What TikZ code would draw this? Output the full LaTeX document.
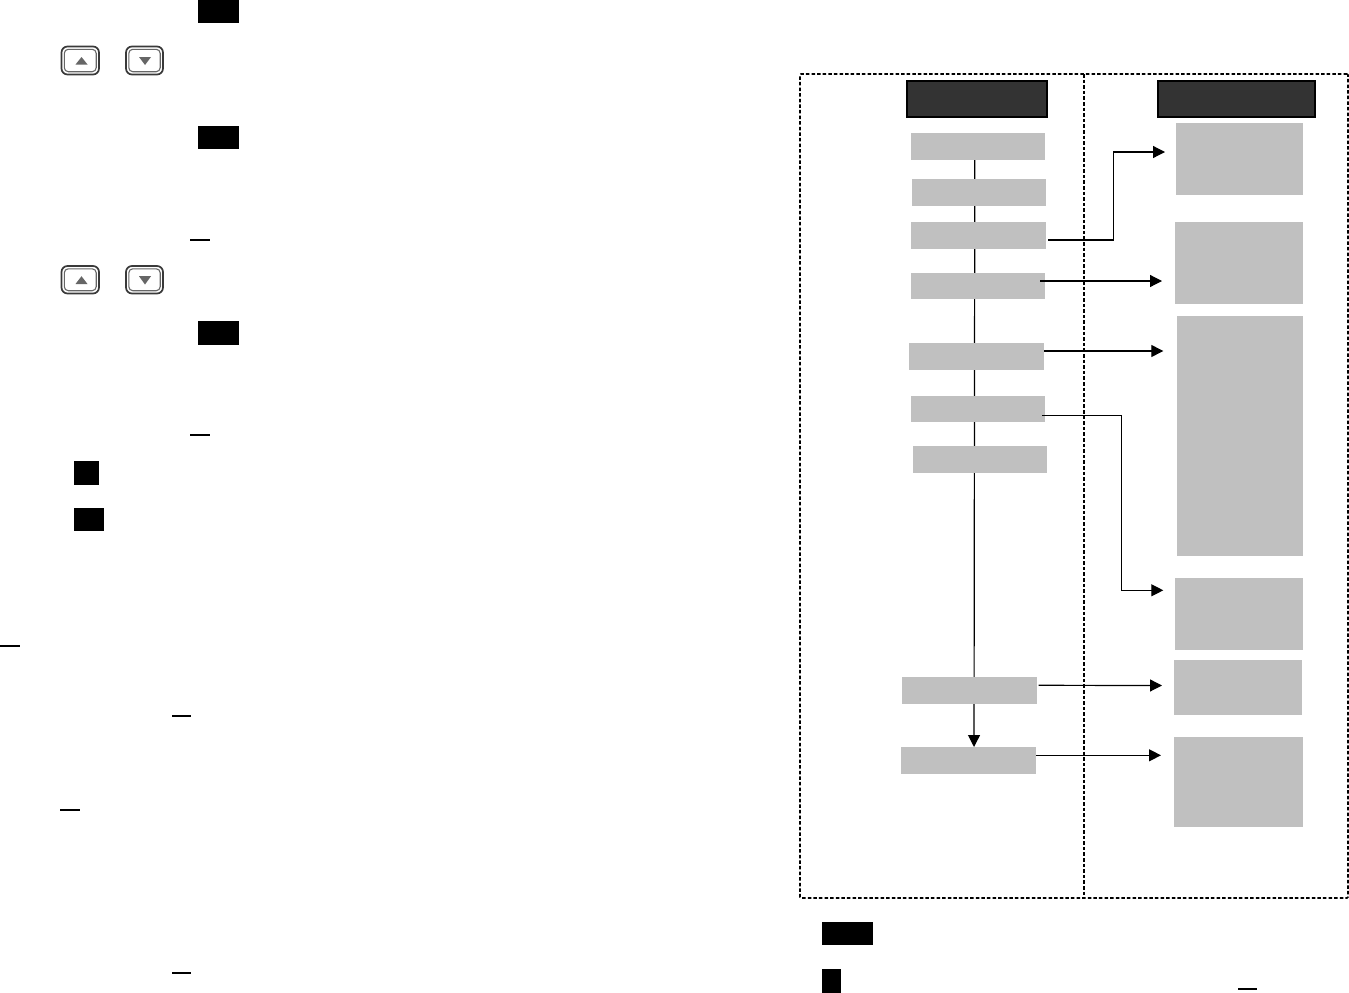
\documentclass[tikz,border=0pt]{standalone}
\usetikzlibrary{arrows.meta,backgrounds}
\definecolor{boxgrey}{HTML}{C0C0C0}
\definecolor{headgrey}{HTML}{333333}
\definecolor{keydark}{HTML}{3A3A3A}
\definecolor{keymid}{HTML}{666666}
\definecolor{keytri}{HTML}{666666}
\tikzset{
  x=1pt,y=-1pt,
  plainbox/.style={inner sep=0pt,outer sep=0pt},
  greybox/.style={plainbox,fill=boxgrey},
  headbox/.style={plainbox,fill=headgrey,draw=black,line width=2pt},
  keycap/.style={plainbox,fill=black},
  framebox/.style={plainbox,draw=black,line width=1.6pt,dash pattern=on 3.5pt off 2.1pt,rounded corners=1pt},
  frameline/.style={draw=black,line width=1.6pt,dash pattern=on 3.5pt off 2.1pt},
  flow/.style={draw=black,line width=1.2pt,-{Triangle[length=12pt,width=12pt]}},
  spineline/.style={draw=black,line width=1.2pt},
  uline/.style={draw=black,line width=#1},
  uline/.default=1.2pt,
  keyouter/.style={draw=keydark,line width=1.7pt,fill=white,rounded corners=6pt},
  keyinner/.style={draw=keymid,line width=1.1pt,rounded corners=4pt},
  keytriangle/.style={fill=keytri,draw=none}
}
% \mybox{name}{x1}{y1}{x2}{y2}{style}
\newcommand{\mybox}[6]{%
  \pgfmathsetmacro{\myw}{#4-#2}\pgfmathsetmacro{\myh}{#5-#3}%
  \pgfmathsetmacro{\mycx}{(#2+#4)/2}\pgfmathsetmacro{\mycy}{(#3+#5)/2}%
  \node[#6,minimum width=\myw pt,minimum height=\myh pt] (#1) at (\mycx,\mycy) {};%
}
% \keybtn{x1}{y1}{x2}{y2}{tx1}{tx2}{ty-base}{ty-apex}
\newcommand{\keybtn}[8]{%
  \draw[keyouter] (#1,#2) rectangle (#3,#4);
  \draw[keyinner] (#1+2.8,#2+2.8) rectangle (#3-2.8,#4-2.8);
  \fill[keytriangle] (#5,#7) -- (#6,#7) -- ({(#5+#6)/2},#8) -- cycle;
}
\begin{document}
\begin{tikzpicture}
\useasboundingbox (0,0) rectangle (1349,993);

% left column keys
\mybox{k1}{198}{0}{239}{23}{keycap}
\mybox{k2}{198}{126}{239}{149}{keycap}
\mybox{k3}{198}{321}{239}{345}{keycap}
\mybox{k4}{74}{461}{99}{485}{keycap}
\mybox{k5}{74}{508}{104}{531}{keycap}
\mybox{k6}{822}{922}{873}{945}{keycap}
\mybox{k7}{822}{969}{841}{993}{keycap}

\keybtn{61.5}{46.5}{99}{74.5}{75.5}{87.5}{64.5}{57}
\keybtn{126}{46.5}{163}{74.5}{139}{151}{57}{65}
\keybtn{61.5}{266}{99}{293.5}{75.5}{87.5}{284}{276.2}
\keybtn{126}{266}{163}{293.5}{139}{151}{276.2}{284.5}

\draw[uline] (190,240) -- (210,240);
\draw[uline] (190,435) -- (210,435);
\draw[uline] (0,646) -- (20,646);
\draw[uline] (172,716) -- (191,716);
\draw[uline=2.2pt] (60,810) -- (80,810);
\draw[uline=2pt] (172,973) -- (191,973);
\draw[uline] (1238,989) -- (1257,989);

% dashed frame and its divider
\mybox{frame}{800}{74}{1348}{898}{framebox}
\coordinate (div) at (1084,0);
\draw[frameline] (frame.north -| div) -- (frame.south -| div);

% headers
\mybox{hl}{907}{81}{1047}{116.5}{headbox}
\mybox{hr}{1158}{81}{1315}{116.5}{headbox}

% left column boxes
\mybox{b1}{911}{133}{1045}{160}{greybox}
\mybox{b2}{912}{179}{1046}{206}{greybox}
\mybox{b3}{911}{222}{1046}{249}{greybox}
\mybox{b4}{911}{273}{1045}{299}{greybox}
\mybox{b5}{909}{343}{1044}{370}{greybox}
\mybox{b6}{911}{396}{1045}{422}{greybox}
\mybox{b7}{913}{446}{1047}{473}{greybox}
\mybox{b8}{902}{677}{1037}{704}{greybox}
\mybox{b9}{901}{747}{1036}{774}{greybox}

% right column boxes
\mybox{r1}{1176}{123}{1303}{195}{greybox}
\mybox{r2}{1175}{222}{1303}{304}{greybox}
\mybox{r3}{1177}{316}{1303}{556}{greybox}
\mybox{r4}{1175}{578}{1303}{650}{greybox}
\mybox{r5}{1174}{660}{1302}{715}{greybox}
\mybox{r6}{1174}{737}{1303}{827}{greybox}

% spine behind the boxes
\begin{scope}[on background layer]
  \draw[spineline,-{Triangle[length=12pt,width=12pt]}] ([xshift=-3.2pt]b1.south) -- ([xshift=5.5pt]b9.north);
\end{scope}

% branch connectors
\coordinate (s1) at ([xshift=2pt,yshift=-4.5pt]b3.east);
\coordinate (e1) at ([xshift=-11pt,yshift=7pt]r1.west);
\coordinate (c1) at (1113.5,0);
\draw[flow] (s1) -- (s1 -| c1) -- (e1 -| c1) -- (e1);

\draw[flow] ([xshift=-5pt,yshift=5pt]b4.east) -- ([xshift=-13pt,yshift=-18pt]r2.west);
\draw[flow] ([yshift=5.5pt]b5.east) -- ([xshift=-13.7pt,yshift=85pt]r3.west);

\coordinate (s4) at ([xshift=-3pt,yshift=-6.3pt]b6.east);
\coordinate (e4) at ([xshift=-11.7pt,yshift=23.7pt]r4.west);
\coordinate (c4) at (1121.3,0);
\draw[flow] (s4) -- (s4 -| c4) -- (e4 -| c4) -- (e4);

\draw[flow] ([xshift=1.7pt,yshift=5.2pt]b8.east) -- ([xshift=-12pt,yshift=2pt]r5.west);
\draw[flow] ([yshift=5.2pt]b9.east) -- ([xshift=-13pt,yshift=26.7pt]r6.west);
\end{tikzpicture}
\end{document}
